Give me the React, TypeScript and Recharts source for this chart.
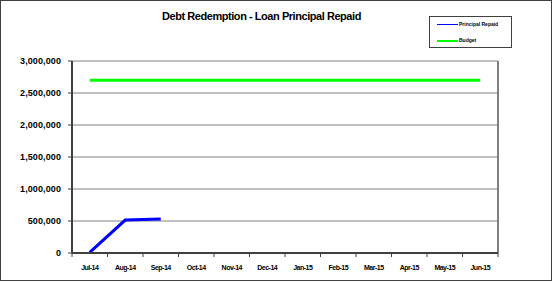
import React from 'react';
import { LineChart, Line, XAxis, YAxis, CartesianGrid } from 'recharts';

const months = ['Jul-14', 'Aug-14', 'Sep-14', 'Oct-14', 'Nov-14', 'Dec-14', 'Jan-15', 'Feb-15', 'Mar-15', 'Apr-15', 'May-15', 'Jun-15'];
const principalRepaid: (number | null)[] = [10000, 515000, 530000, null, null, null, null, null, null, null, null, null];
const budget = [2700000, 2700000, 2700000, 2700000, 2700000, 2700000, 2700000, 2700000, 2700000, 2700000, 2700000, 2700000];
const yTicks = [0, 500000, 1000000, 1500000, 2000000, 2500000, 3000000];
const seriesNames = ['Principal Repaid', 'Budget'];
const seriesColors = ['#0000ff', '#00ff00'];

const data = months.map((m, i) => ({ month: m, principal: principalRepaid[i], budget: budget[i] }));

const W = 553;
const H = 282;
const PLOT_LEFT = 72;
const PLOT_RIGHT = 498;
const PLOT_TOP = 61;
const PLOT_BOTTOM = 253;
const STEP = (PLOT_RIGHT - PLOT_LEFT) / months.length;

const fontFamily = '"Liberation Sans", Arial, sans-serif';

const XTick = (props: any) => {
  const { x, y, payload, index } = props;
  const axisY = PLOT_BOTTOM;
  return (
    <g>
      <line x1={x - STEP / 2} x2={x - STEP / 2} y1={axisY} y2={axisY + 4} stroke="#404040" strokeWidth={1} />
      {index === months.length - 1 && (
        <line x1={x + STEP / 2} x2={x + STEP / 2} y1={axisY} y2={axisY + 4} stroke="#404040" strokeWidth={1} />
      )}
      <text x={x} y={y + 9} textAnchor="middle" fontSize={7} fontWeight="bold" letterSpacing={-0.5} fill="#000" fontFamily={fontFamily}>
        {payload.value}
      </text>
    </g>
  );
};

const LegendBox = () => (
  <div
    style={{
      position: 'absolute',
      left: 429,
      top: 16,
      width: 83,
      height: 32,
      border: '1px solid #404040',
      background: '#fff',
      boxSizing: 'border-box',
      fontFamily,
      fontSize: 5,
      fontWeight: 'bold',
    }}
  >
    {seriesNames.map((n, i) => (
      <div key={n} style={{ position: 'absolute', left: 7, top: i === 0 ? 5 : 21, display: 'flex', alignItems: 'center', height: 5 }}>
        <div style={{ width: 21, height: i === 0 ? 1.5 : 2, background: seriesColors[i] }} />
        <span style={{ marginLeft: 1, whiteSpace: 'nowrap', lineHeight: '5px' }}>{n}</span>
      </div>
    ))}
  </div>
);

export default function App() {
  return (
    <div style={{ position: 'absolute', left: 0, top: 0, width: W, height: H, background: '#fff' }}>
      <div
        style={{
          position: 'absolute',
          left: 0,
          top: 0,
          width: W - 1,
          height: H - 1,
          border: '1px solid #404040',
          boxSizing: 'border-box',
        }}
      />
      <div
        style={{
          position: 'absolute',
          left: 0,
          width: 523,
          top: 10,
          textAlign: 'center',
          fontFamily,
          fontWeight: 'bold',
          fontSize: 11,
          letterSpacing: -0.45,
          color: '#000',
        }}
      >
        Debt Redemption - Loan Principal Repaid
      </div>
      <LineChart
        width={W}
        height={H}
        data={data}
        margin={{ top: PLOT_TOP, right: W - PLOT_RIGHT, bottom: H - PLOT_BOTTOM - 20, left: PLOT_LEFT - 60 }}
        style={{ position: 'absolute', left: 0, top: 0 }}
      >
        <CartesianGrid vertical={false} stroke="#808080" strokeWidth={1} />
        <CartesianGrid
          horizontal={false}
          stroke="#808080"
          strokeWidth={2}
          verticalCoordinatesGenerator={({ offset }: any) => [offset.left + offset.width]}
        />
        <XAxis
          dataKey="month"
          height={20}
          padding={{ left: STEP / 2, right: STEP / 2 }}
          tickLine={false}
          axisLine={{ stroke: '#404040', strokeWidth: 2 }}
          tick={<XTick />}
          interval={0}
        />
        <YAxis
          width={60}
          domain={[0, 3000000]}
          ticks={yTicks}
          tickSize={4}
          tickMargin={7}
          tickLine={{ stroke: '#404040' }}
          axisLine={{ stroke: '#404040', strokeWidth: 2 }}
          tickFormatter={(v: number) => v.toLocaleString('en-US')}
          tick={{ fontSize: 9, fontWeight: 'bold', fill: '#000', fontFamily, letterSpacing: 0.1 }}
          interval={0}
        />
        <Line
          type="linear"
          dataKey="principal"
          name={seriesNames[0]}
          stroke={seriesColors[0]}
          strokeWidth={3}
          dot={false}
          isAnimationActive={false}
          connectNulls={false}
        />
        <Line
          type="linear"
          dataKey="budget"
          name={seriesNames[1]}
          stroke={seriesColors[1]}
          strokeWidth={3}
          dot={false}
          isAnimationActive={false}
        />
      </LineChart>
      <LegendBox />
    </div>
  );
}
